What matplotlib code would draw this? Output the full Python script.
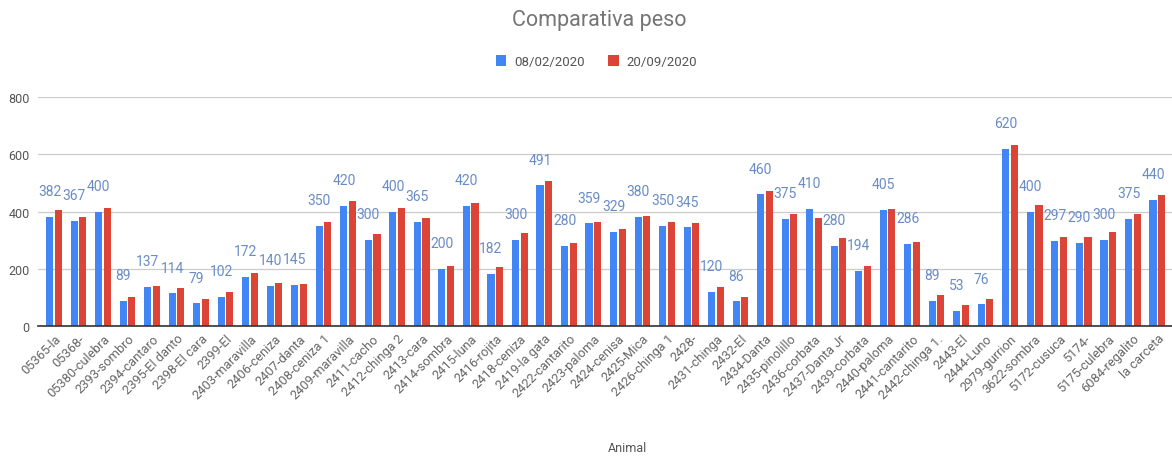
import matplotlib
matplotlib.use("Agg")
import matplotlib.pyplot as plt
import numpy as np
from matplotlib.patches import Patch

plt.rcParams['font.family'] = ['Roboto', 'DejaVu Sans']

animals = ["05365-la", "05368-", "05380-culebra", "2393-sombro", "2394-cantaro",
           "2395-El danto", "2398-El cara", "2399-El", "2403-maravilla", "2406-ceniza",
           "2407-danta", "2408-ceniza 1", "2409-maravilla", "2411-cacho", "2412-chinga 2",
           "2413-cara", "2414-sombra", "2415-luna", "2416-rojita", "2418-ceniza",
           "2419-la gata", "2422-cantarito", "2423-paloma", "2424-cenisa", "2425-Mica",
           "2426-chinga 1", "2428-", "2431-chinga", "2432-El", "2434-Danta",
           "2435-pinolillo", "2436-corbata", "2437-Danta Jr", "2439-corbata", "2440-paloma",
           "2441-cantarito", "2442-chinga 1.", "2443-El", "2444-Luno", "2979-gurrion",
           "3622-sombra", "5172-cusuca", "5174-", "5175-culebra", "6084-regalito",
           "la carceta"]

peso_feb = [382, 367, 400, 89, 137, 114, 79, 102, 172, 140,
            145, 350, 420, 300, 400, 365, 200, 420, 182, 300,
            491, 280, 359, 329, 380, 350, 345, 120, 86, 460,
            375, 410, 280, 194, 405, 286, 89, 53, 76, 620,
            400, 297, 290, 300, 375, 440]

peso_sep = [405, 380, 413, 102, 141, 133, 94, 120, 186, 149,
            147, 362, 437, 321, 414, 378, 209, 430, 206, 324,
            506, 290, 365, 340, 384, 365, 360, 136, 100, 472,
            391, 378, 306, 209, 408, 294, 108, 72, 94, 634,
            422, 312, 312, 329, 391, 457]

yticks = [0, 200, 400, 600, 800]
series_names = ["08/02/2020", "20/09/2020"]

BLUE = "#4285f4"
RED = "#db4437"

fig = plt.figure(figsize=(11.72, 4.60), dpi=100)
ax = fig.add_axes([0.0324, 0.289, 0.9676, 0.498])

x = np.arange(len(animals))
w = 0.29
off = 0.175
ax.bar(x - off, peso_feb, width=w, color=BLUE, zorder=3)
ax.bar(x + off, peso_sep, width=w, color=RED, zorder=3)

for xi, v in zip(x, peso_feb):
    ax.annotate(str(v), (xi - off, v), xytext=(0, 13.5), textcoords='offset points',
                ha='center', va='bottom', fontsize=10, color='#6a8cc6')

ax.set_xlim(-0.65, len(animals) - 0.4)
ax.set_ylim(0, 800)
ax.set_yticks(yticks)
ax.set_yticklabels([str(t) for t in yticks], fontsize=9, color='#555555')
ax.yaxis.grid(True, color='#cccccc', linewidth=0.9, zorder=0)
ax.set_axisbelow(True)
for s in ['top', 'right', 'left']:
    ax.spines[s].set_visible(False)
ax.spines['bottom'].set_color('#333333')
ax.spines['bottom'].set_linewidth(1.2)
ax.spines['bottom'].set_zorder(4)
ax.tick_params(axis='both', length=0)
ax.tick_params(axis='y', pad=6)
ax.set_xticks(x)
ax.set_xticklabels(animals, rotation=45, ha='right', rotation_mode='anchor',
                   fontsize=9.3, color='#666666')
ax.tick_params(axis='x', pad=4)

fig.text(0.511, 0.955, "Comparativa peso", ha='center', va='center', fontsize=15.5, color='#757575')
fig.text(0.535, 0.026, "Animal", ha='center', va='center', fontsize=9, color='#555555')

handles = [Patch(facecolor=BLUE, edgecolor='none'), Patch(facecolor=RED, edgecolor='none')]
fig.legend(handles, series_names, loc='center', bbox_to_anchor=(0.509, 0.865), ncol=2,
           frameon=False, fontsize=9.5, handlelength=0.8, handleheight=0.9,
           handletextpad=0.6, columnspacing=1.8, labelcolor='#555555')

fig.savefig("out.png", dpi=100)
